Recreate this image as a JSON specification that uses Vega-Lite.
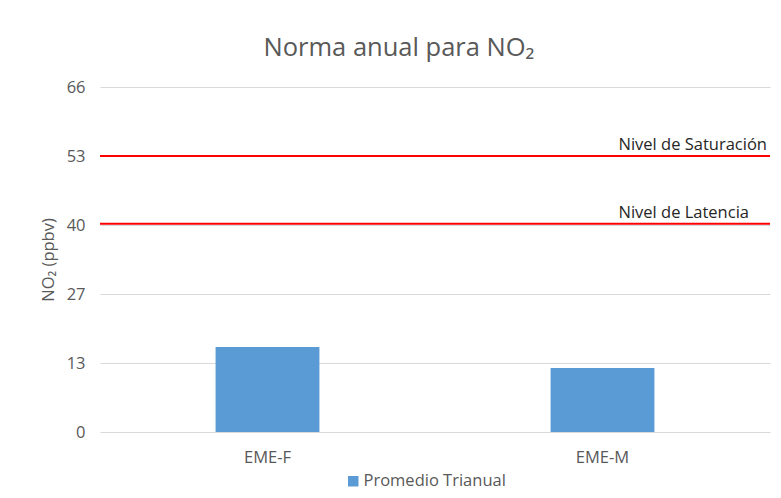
{
  "$schema": "https://vega.github.io/schema/vega-lite/v6.json",
  "width": 670,
  "height": 345,
  "autosize": {"type": "none"},
  "padding": {"left": 100, "top": 87, "right": 11, "bottom": 66},
  "background": "white",
  "title": {
    "text": "Norma anual para NO₂",
    "font": "Open Sans",
    "fontSize": 25.5,
    "fontWeight": "normal",
    "color": "#595959",
    "anchor": "middle",
    "dx": -36,
    "offset": 18
  },
  "datasets": {
    "barras": [
      {"estacion": "EME-F", "valor": 16.3, "serie": "Promedio Trianual"},
      {"estacion": "EME-M", "valor": 12.3, "serie": "Promedio Trianual"}
    ],
    "niveles": [
      {"nivel": "Nivel de Saturación", "valor": 53},
      {"nivel": "Nivel de Latencia", "valor": 40}
    ]
  },
  "layer": [
    {
      "data": {"name": "barras"},
      "mark": {"type": "bar"},
      "encoding": {
        "x": {
          "field": "estacion",
          "type": "nominal",
          "scale": {"paddingInner": 0.69, "paddingOuter": 0.345},
          "axis": {
            "title": null,
            "labelAngle": 0,
            "ticks": false,
            "domain": false,
            "labelPadding": 17,
            "labelFont": "Open Sans",
            "labelFontSize": 16.5,
            "labelColor": "#595959"
          }
        },
        "y": {
          "field": "valor",
          "type": "quantitative",
          "scale": {"domain": [0, 66.25], "nice": false},
          "axis": {
            "title": "NO₂ (ppbv)",
            "values": [0, 13.25, 26.5, 39.75, 53, 66.25],
            "format": ".0f",
            "grid": true,
            "gridColor": "#d9d9d9",
            "gridWidth": 1,
            "domain": false,
            "ticks": false,
            "labelPadding": 15,
            "labelFont": "Open Sans",
            "labelFontSize": 16.5,
            "labelColor": "#595959",
            "titleFont": "Open Sans",
            "titleFontSize": 16.5,
            "titleFontWeight": "normal",
            "titleColor": "#595959",
            "titlePadding": 10
          }
        },
        "color": {
          "field": "serie",
          "type": "nominal",
          "scale": {"range": ["#5B9BD5"]},
          "legend": {
            "title": null,
            "orient": "none",
            "legendX": 245,
            "legendY": 386,
            "symbolType": "square",
            "symbolSize": 110,
            "labelFont": "Open Sans",
            "labelFontSize": 16.5,
            "labelColor": "#595959",
            "labelOffset": 2
          }
        }
      }
    },
    {
      "data": {"name": "niveles"},
      "mark": {"type": "rule", "color": "#FF0000", "strokeWidth": 2},
      "encoding": {
        "y": {"field": "valor", "type": "quantitative"}
      }
    },
    {
      "data": {"name": "niveles"},
      "mark": {
        "type": "text",
        "align": "left",
        "baseline": "alphabetic",
        "dx": 16,
        "dy": -6,
        "font": "Open Sans",
        "fontSize": 16.5,
        "color": "#262626"
      },
      "encoding": {
        "x": {"datum": "EME-M"},
        "y": {"field": "valor", "type": "quantitative"},
        "text": {"field": "nivel"}
      }
    }
  ],
  "config": {
    "view": {"stroke": null}
  }
}
